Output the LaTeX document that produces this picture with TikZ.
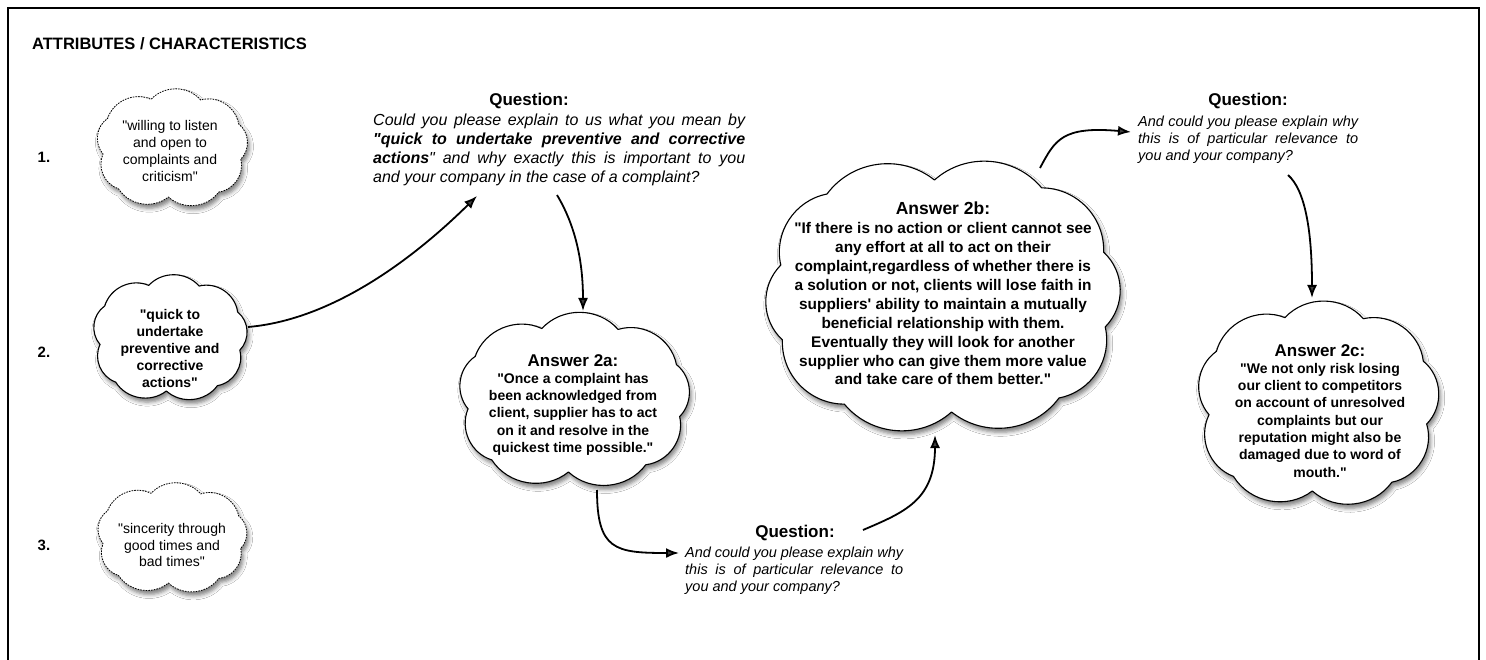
\documentclass[tikz,border=0pt]{standalone}
\usepackage{fontspec}
\newfontfamily\arial{Liberation Sans}
\usetikzlibrary{shadows.blur,arrows.meta,calc}
\pgfmathdeclarefunction{cloudr}{1}{%
  \begingroup
  \pgfmathparse{1/pow(pow(abs(cos(#1))+0.0001,3.2)+pow(abs(sin(#1))+0.0001,3.2),1/3.2)}%
  \pgfmathsmuggle\pgfmathresult
  \endgroup}
% #1 style, #2 cx, #3 cy, #4 a, #5 b, #6 puffs, #7 start angle, #8 bend
\newcommand{\puffcloud}[8]{%
  \path[#1] ({#2+#4*cloudr(#7)*cos(#7)},{#3+#5*cloudr(#7)*sin(#7)})
    \foreach \k in {1,...,#6} {
      to[bend left=#8] ({#2+#4*cloudr(#7+360*\k/#6)*cos(#7+360*\k/#6)},{#3+#5*cloudr(#7+360*\k/#6)*sin(#7+360*\k/#6)})
    } -- cycle;}
\begin{document}
\begin{tikzpicture}[x=1pt,y=-1pt,
  every node/.style={font=\arial, inner sep=0pt},
  cloudbase/.style={draw=black, fill=white, line join=round,
     blur shadow={shadow xshift=2pt, shadow yshift=-4pt, shadow blur radius=4pt, shadow opacity=50}},
  solidcloud/.style={cloudbase, line width=1.1pt},
  dashcloud/.style={cloudbase, line width=0.8pt, dash pattern=on 1.6pt off 1.1pt},
  qhead/.style={font=\arial\bfseries\fontsize{17}{20}\selectfont},
  qbody/.style={font=\arial\itshape\fontsize{14.5}{17}\selectfont, align=justify, anchor=north west},
  atext/.style={font=\arial\bfseries\fontsize{14}{17.3}\selectfont, align=center, anchor=north},
  ctext/.style={font=\arial\fontsize{14}{16.7}\selectfont, align=center},
  cbtext/.style={font=\arial\bfseries\fontsize{14}{17}\selectfont, align=center},
  numlabel/.style={font=\arial\bfseries\fontsize{15}{17}\selectfont},
  arr/.style={line width=1.8pt, -{Latex[length=13pt,width=10pt]}}
]
\useasboundingbox (0,0) rectangle (1486,660);
\fill[white] (0,0) rectangle (1486,660);
\draw[line width=2pt] (8,8) rectangle (1479,700);

\node[font=\arial\bfseries\fontsize{16.5}{19}\selectfont, anchor=base west] (title) at (32,50) {ATTRIBUTES / CHARACTERISTICS};

\node[numlabel] (n1) at (44,157) {1.};
\node[numlabel] (n2) at (44,352) {2.};
\node[numlabel] (n3) at (44,545) {3.};

% attribute clouds
\puffcloud{dashcloud}{172}{148}{69}{49}{9}{13}{48}
\node[ctext] (c1t) at (170,151) {"willing to listen\\and open to\\complaints and\\criticism"};
\puffcloud{solidcloud}{170}{338}{70}{53}{9}{13}{48}
\node[cbtext] (c2t) at (170,348) {"quick to\\undertake\\preventive and\\corrective\\actions"};
\puffcloud{dashcloud}{172}{538}{69}{45}{9}{13}{48}
\node[ctext] (c3t) at (172,545) {"sincerity through\\good times and\\bad times"};

% question 1
\node[qhead] (q1h) at (529,101) {Question:};
\node[qbody, font=\arial\itshape\fontsize{16}{19}\selectfont, text width=372pt] (q1b) at (373,114) {Could you please explain to us what you mean by\linebreak \textbf{"quick to undertake preventive and corrective\linebreak actions}" and why exactly this is important to you\linebreak and your company in the case of a complaint?};

% answer 2a
\puffcloud{solidcloud}{574}{400}{106}{72}{9}{13}{48}
\node[atext] (c2at) at (573,354) {{\fontsize{17}{19}\selectfont Answer 2a:}\\"Once a complaint has\\been acknowledged from\\client, supplier has to act\\on it and resolve in the\\quickest time possible."};

% question 2
\node[qhead] (q2h) at (795,533) {Question:};
\node[qbody, text width=218pt] (q2b) at (685,547) {And could you please explain why\linebreak this is of particular relevance to\linebreak you and your company?};

% answer 2b
\puffcloud{solidcloud}{943}{296}{163}{116}{10}{15}{46}
\node[atext, font=\arial\bfseries\fontsize{15.4}{18.9}\selectfont] (c2bt) at (943,202) {{\fontsize{17.5}{19}\selectfont Answer 2b:}\\"If there is no action or client cannot see\\any effort at all to act on their\\complaint,regardless of whether there is\\a solution or not, clients will lose faith in\\suppliers' ability to maintain a mutually\\beneficial relationship with them.\\Eventually they will look for another\\supplier who can give them more value\\and take care of them better."};

% question 3
\node[qhead] (q3h) at (1248,101) {Question:};
\node[qbody, text width=220pt] (q3b) at (1138,116) {And could you please explain why\linebreak this is of particular relevance to\linebreak you and your company?};

% answer 2c
\puffcloud{solidcloud}{1318}{404}{109}{87}{9}{13}{48}
\node[atext] (c2ct) at (1320,344) {{\fontsize{17}{19}\selectfont Answer 2c:}\\"We not only risk losing\\our client to competitors\\on account of unresolved\\complaints but our\\reputation might also be\\damaged due to word of\\mouth."};

% connector end points
\coordinate (a1s) at (248,327);
\coordinate (a1e) at (477,196);
\coordinate (a2s) at (557,195);
\coordinate (a2e) at (583,311);
\coordinate (a3s) at (597,490);
\coordinate (a3e) at (679,553);
\coordinate (a4s) at (863,530);
\coordinate (a4e) at (935,435);
\coordinate (a5s) at (1040,168);
\coordinate (a5e) at (1131,132);
\coordinate (a6s) at (1288,175);
\coordinate (a6e) at (1312,298);

\draw[arr] (a1s) .. controls (330,320) and (410,262) .. (a1e);
\draw[arr] (a2s) .. controls (575,225) and (583,260) .. (a2e);
\draw[arr] (a3s) .. controls (597,550) and (615,553) .. (a3e);
\draw[arr] (a4s) .. controls (905,512) and (935,500) .. (a4e);
\draw[arr] (a5s) .. controls (1055,140) and (1062,126) .. (a5e);
\draw[arr] (a6s) .. controls (1305,190) and (1312,230) .. (a6e);
\end{tikzpicture}
\end{document}
